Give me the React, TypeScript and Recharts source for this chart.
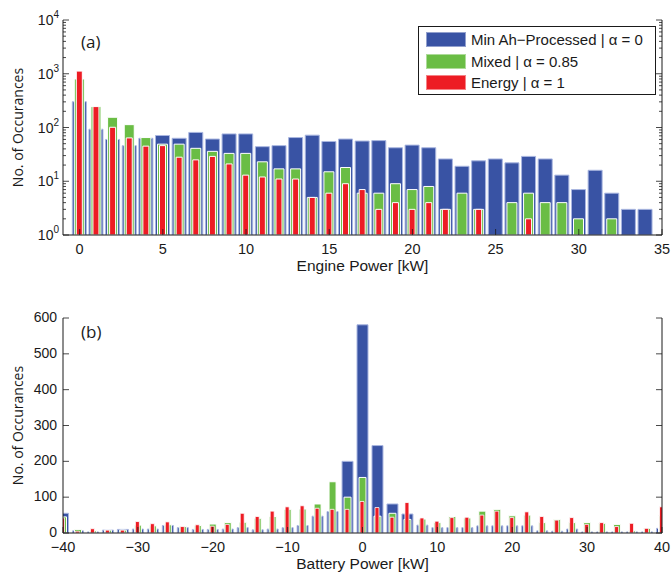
import React from 'react';
import { ComposedChart, Bar, XAxis, YAxis, Legend } from 'recharts';

// (a) engine power histogram, 1 kW bins
const engineBins = [0, 1, 2, 3, 4, 5, 6, 7, 8, 9, 10, 11, 12, 13, 14, 15, 16, 17, 18, 19, 20, 21, 22, 23, 24, 25, 26, 27, 28, 29, 30, 31, 32, 33, 34];
const ahEngine = [302, 93, 60, 46, 63, 71, 63, 81, 61, 76, 76, 44, 46, 65, 72, 55, 61, 56, 57, 42, 47, 42, 26, 19, 24, 26, 22, 29, 26, 13, 7, 16, 6, 3, 3];
const mixedEngine = [800, 245, 155, 113, 65, 49, 49, 41, 36, 33, 33, 23, 17, 17, 5, 15, 18, 6, 6, 9, 7, 8, 3, 6, 3, null, 4, 6, 4, 4, 2, null, 2, null, null];
const energyEngine = [1120, 245, 101, 64, 45, 46, 28, 25, 29, 21, 13, 12, 11, 11, 5, 6, 9, 7, 3, 4, 3, 4, 3, null, 3, null, null, 2, null, null, null, null, null, null, null];

// (b) battery power histogram, 2 kW bins
const batteryBins = [-40, -38, -36, -34, -32, -30, -28, -26, -24, -22, -20, -18, -16, -14, -12, -10, -8, -6, -4, -2, 0, 2, 4, 6, 8, 10, 12, 14, 16, 18, 20, 22, 24, 26, 28, 30, 32, 34, 36, 38, 40];
const ahBattery = [55, 6, 3, 8, 10, 11, 11, 21, 15, 10, 10, 11, 15, 9, 11, 15, 21, 47, 60, 200, 581, 244, 81, 53, 22, 15, 15, 15, 20, 20, 20, 20, 6, 5, 11, 3, 3, 3, 3, 3, 13];
const mixedBattery = [45, 10, 6, 8, 8, 22, 20, 23, 18, 21, 25, 29, 30, 41, 46, 66, 67, 81, 143, 100, 155, 47, 55, 38, 39, 29, 46, 42, 61, 66, 48, 50, 29, 38, 29, 29, 27, 24, 6, 13, 48];
const energyBattery = [42, 5, 12, 8, 8, 32, 26, 31, 18, 23, 19, 24, 55, 46, 61, 73, 76, 69, 66, 66, 88, 71, 44, 85, 42, 33, 43, 44, 50, 61, 43, 59, 46, 36, 43, 24, 29, 18, 27, 13, 73];

const engineTicks = [0, 5, 10, 15, 20, 25, 30, 35];
const logDecades = [1, 10, 100, 1000, 10000];
const logTicks = [
  1, 2, 3, 4, 5, 6, 7, 8, 9,
  10, 20, 30, 40, 50, 60, 70, 80, 90,
  100, 200, 300, 400, 500, 600, 700, 800, 900,
  1000, 2000, 3000, 4000, 5000, 6000, 7000, 8000, 9000,
  10000,
];
const batteryTicks = [-40, -30, -20, -10, 0, 10, 20, 30, 40];
const countTicks = [0, 100, 200, 300, 400, 500, 600];

const seriesKeys = ['ah', 'mixed', 'energy'];
const seriesNames = ['Min Ah\u2212Processed | \u03b1 = 0', 'Mixed | \u03b1 = 0.85', 'Energy | \u03b1 = 1'];

const BLUE = '#3953a4';
const GREEN = '#6abd45';
const RED = '#ed1c24';
const INK = '#1a1a1a';
const FONT = '"Liberation Sans", Arial, Helvetica, sans-serif';
const TITLE_FONT = '"Open Sans", "Liberation Sans", Arial, sans-serif';
const seriesColors = [BLUE, GREEN, RED];

const engineData = engineBins.map((p, i) => ({
  p,
  ah: ahEngine[i],
  mixed: mixedEngine[i],
  energy: energyEngine[i],
}));

const batteryData = batteryBins.map((p, i) => ({
  p,
  ah: ahBattery[i],
  mixed: mixedBattery[i],
  energy: energyBattery[i],
}));

const minus = (v: number) => (v < 0 ? `\u2212${-v}` : `${v}`);

const LeftTick = ({ x, y, payload, log }: any) => {
  const v = payload.value;
  const major = log ? logDecades.includes(v) : true;
  return (
    <g>
      <line x1={x} y1={y} x2={x + (major ? 6 : 3)} y2={y} stroke={INK} strokeWidth={0.8} />
      {major &&
        (log ? (
          <text x={x - 4} y={y + 5} textAnchor="end" fontSize={14} fontFamily={FONT} fill={INK}>
            10
            <tspan dy={-7} fontSize={10}>
              {Math.round(Math.log10(v))}
            </tspan>
          </text>
        ) : (
          <text x={x - 6} y={y + 4} textAnchor="end" fontSize={14} fontFamily={FONT} fill={INK}>
            {v}
          </text>
        ))}
    </g>
  );
};

const RightTick = ({ x, y, payload, log }: any) => {
  const major = log ? logDecades.includes(payload.value) : true;
  return <line x1={x} y1={y} x2={x - (major ? 6 : 3)} y2={y} stroke={INK} strokeWidth={0.8} />;
};

const TopTick = ({ x, y }: any) => <line x1={x} y1={y} x2={x} y2={y + 6} stroke={INK} strokeWidth={0.8} />;

const BottomTick = ({ x, y, payload }: any) => (
  <g>
    <line x1={x} y1={y} x2={x} y2={y - 6} stroke={INK} strokeWidth={0.8} />
    <text x={x} y={y + 19} textAnchor="middle" fontSize={14.5} fontFamily={FONT} fill={INK}>
      {minus(payload.value)}
    </text>
  </g>
);

const YTitle = ({ viewBox }: any) => {
  const cx = viewBox.x + 10;
  const cy = viewBox.y + viewBox.height / 2;
  return (
    <text x={cx} y={cy} transform={`rotate(-90 ${cx} ${cy})`} textAnchor="middle" fontSize={14} fontFamily={TITLE_FONT} fill={INK}>
      No. of Occurances
    </text>
  );
};

const XTitle = ({ viewBox, text }: any) => (
  <text x={viewBox.x + viewBox.width / 2} y={viewBox.y + 36} textAnchor="middle" fontSize={15.5} fontFamily={FONT} fill={INK}>
    {text}
  </text>
);

const LegendBox = ({ payload }: any) => {
  const items = [...(payload || [])].sort((a: any, b: any) => seriesKeys.indexOf(a.dataKey) - seriesKeys.indexOf(b.dataKey));
  return (
    <div
      style={{
        boxSizing: 'border-box',
        width: 238,
        height: 69,
        border: `1px solid ${INK}`,
        background: '#fff',
        padding: '2px 0 0 7px',
        fontFamily: FONT,
        fontSize: 15,
        color: INK,
      }}
    >
      {items.map((e: any) => (
        <div key={e.value} style={{ display: 'flex', alignItems: 'center', height: 21.5 }}>
          <span
            style={{
              display: 'inline-block',
              width: 40,
              height: 15,
              background: seriesColors[seriesKeys.indexOf(e.dataKey)] || e.color,
              boxShadow: 'inset 0 0 0 1px rgba(255,255,255,0.45)',
              marginRight: 5,
            }}
          />
          <span style={{ whiteSpace: 'nowrap' }}>{e.value}</span>
        </div>
      ))}
    </div>
  );
};

const axisLine = { stroke: INK, strokeWidth: 1 };

const PanelTag = ({ text, top }: { text: string; top: number }) => (
  <div style={{ position: 'absolute', left: 81, top, fontSize: 17, lineHeight: '17px', fontFamily: TITLE_FONT, color: INK }}>
    {text}
  </div>
);

export default function App() {
  return (
    <div style={{ position: 'absolute', left: 0, top: 0, width: 671, height: 576, background: '#fff' }}>
      <div style={{ position: 'absolute', left: 0, top: 0 }}>
        <ComposedChart width={671} height={290} data={engineData} margin={{ top: 20, right: 8, bottom: 25, left: 13 }}>
          <XAxis
            xAxisId="bottom"
            dataKey="p"
            type="number"
            domain={[-1, 35]}
            ticks={engineTicks}
            interval={0}
            allowDataOverflow
            height={30}
            tickSize={0}
            tickMargin={0}
            tickLine={false}
            axisLine={axisLine}
            tick={<BottomTick />}
            label={<XTitle text="Engine Power [kW]" />}
          />
          <XAxis
            xAxisId="top"
            orientation="top"
            dataKey="p"
            type="number"
            domain={[-1, 35]}
            ticks={engineTicks}
            interval={0}
            allowDataOverflow
            height={0}
            tickSize={0}
            tickMargin={0}
            tickLine={false}
            axisLine={axisLine}
            tick={<TopTick />}
          />
          <XAxis xAxisId="r" dataKey="p" type="number" domain={[-1, 35]} allowDataOverflow hide />
          <YAxis
            yAxisId="left"
            type="number"
            scale="log"
            domain={[1, 10000]}
            allowDataOverflow
            ticks={logTicks}
            interval={0}
            width={50}
            tickSize={0}
            tickMargin={0}
            tickLine={false}
            axisLine={axisLine}
            tick={<LeftTick log />}
            label={<YTitle />}
          />
          <YAxis
            yAxisId="right"
            orientation="right"
            type="number"
            scale="log"
            domain={[1, 10000]}
            allowDataOverflow
            ticks={logTicks}
            interval={0}
            width={1}
            tickSize={0}
            tickMargin={0}
            tickLine={false}
            axisLine={axisLine}
            tick={<RightTick log />}
          />
          <Legend layout="vertical" align="center" verticalAlign="middle" wrapperStyle={{ left: 418, top: 26, width: 238, height: 69 }} content={<LegendBox />} />
          <Bar xAxisId="bottom" yAxisId="left" dataKey="ah" name={seriesNames[0]} fill={BLUE} stroke="#a9b6e0" strokeWidth={1} barSize={14} isAnimationActive={false} />
          <Bar xAxisId="top" yAxisId="left" dataKey="mixed" name={seriesNames[1]} fill={GREEN} stroke="#ffffff" strokeWidth={1} barSize={10} isAnimationActive={false} />
          <Bar xAxisId="r" yAxisId="left" dataKey="energy" name={seriesNames[2]} fill={RED} stroke="#ffffff" strokeWidth={1} barSize={6} isAnimationActive={false} />
        </ComposedChart>
      </div>

      <div style={{ position: 'absolute', left: 0, top: 290 }}>
        <ComposedChart width={671} height={286} data={batteryData} margin={{ top: 28, right: 8, bottom: 13, left: 13 }}>
          <XAxis
            xAxisId="bottom"
            dataKey="p"
            type="number"
            domain={[-40, 40]}
            ticks={batteryTicks}
            interval={0}
            allowDataOverflow
            height={30}
            tickSize={0}
            tickMargin={0}
            tickLine={false}
            axisLine={axisLine}
            tick={<BottomTick />}
            label={<XTitle text="Battery Power [kW]" />}
          />
          <XAxis
            xAxisId="top"
            orientation="top"
            dataKey="p"
            type="number"
            domain={[-40, 40]}
            ticks={batteryTicks}
            interval={0}
            allowDataOverflow
            height={0}
            tickSize={0}
            tickMargin={0}
            tickLine={false}
            axisLine={axisLine}
            tick={<TopTick />}
          />
          <XAxis xAxisId="r" dataKey="p" type="number" domain={[-40, 40]} allowDataOverflow hide />
          <YAxis
            yAxisId="left"
            type="number"
            domain={[0, 600]}
            allowDataOverflow
            ticks={countTicks}
            interval={0}
            width={50}
            tickSize={0}
            tickMargin={0}
            tickLine={false}
            axisLine={axisLine}
            tick={<LeftTick />}
            label={<YTitle />}
          />
          <YAxis
            yAxisId="right"
            orientation="right"
            type="number"
            domain={[0, 600]}
            allowDataOverflow
            ticks={countTicks}
            interval={0}
            width={1}
            tickSize={0}
            tickMargin={0}
            tickLine={false}
            axisLine={axisLine}
            tick={<RightTick />}
          />
          <Bar xAxisId="bottom" yAxisId="left" dataKey="ah" fill={BLUE} stroke="#a9b6e0" strokeWidth={1} barSize={11} isAnimationActive={false} />
          <Bar xAxisId="top" yAxisId="left" dataKey="mixed" fill={GREEN} stroke="#ffffff" strokeWidth={1} barSize={7} isAnimationActive={false} />
          <Bar xAxisId="r" yAxisId="left" dataKey="energy" fill={RED} stroke="#ffffff" strokeWidth={0.8} barSize={4} isAnimationActive={false} />
        </ComposedChart>
      </div>

      <PanelTag text="(a)" top={33} />
      <PanelTag text="(b)" top={323} />
    </div>
  );
}
